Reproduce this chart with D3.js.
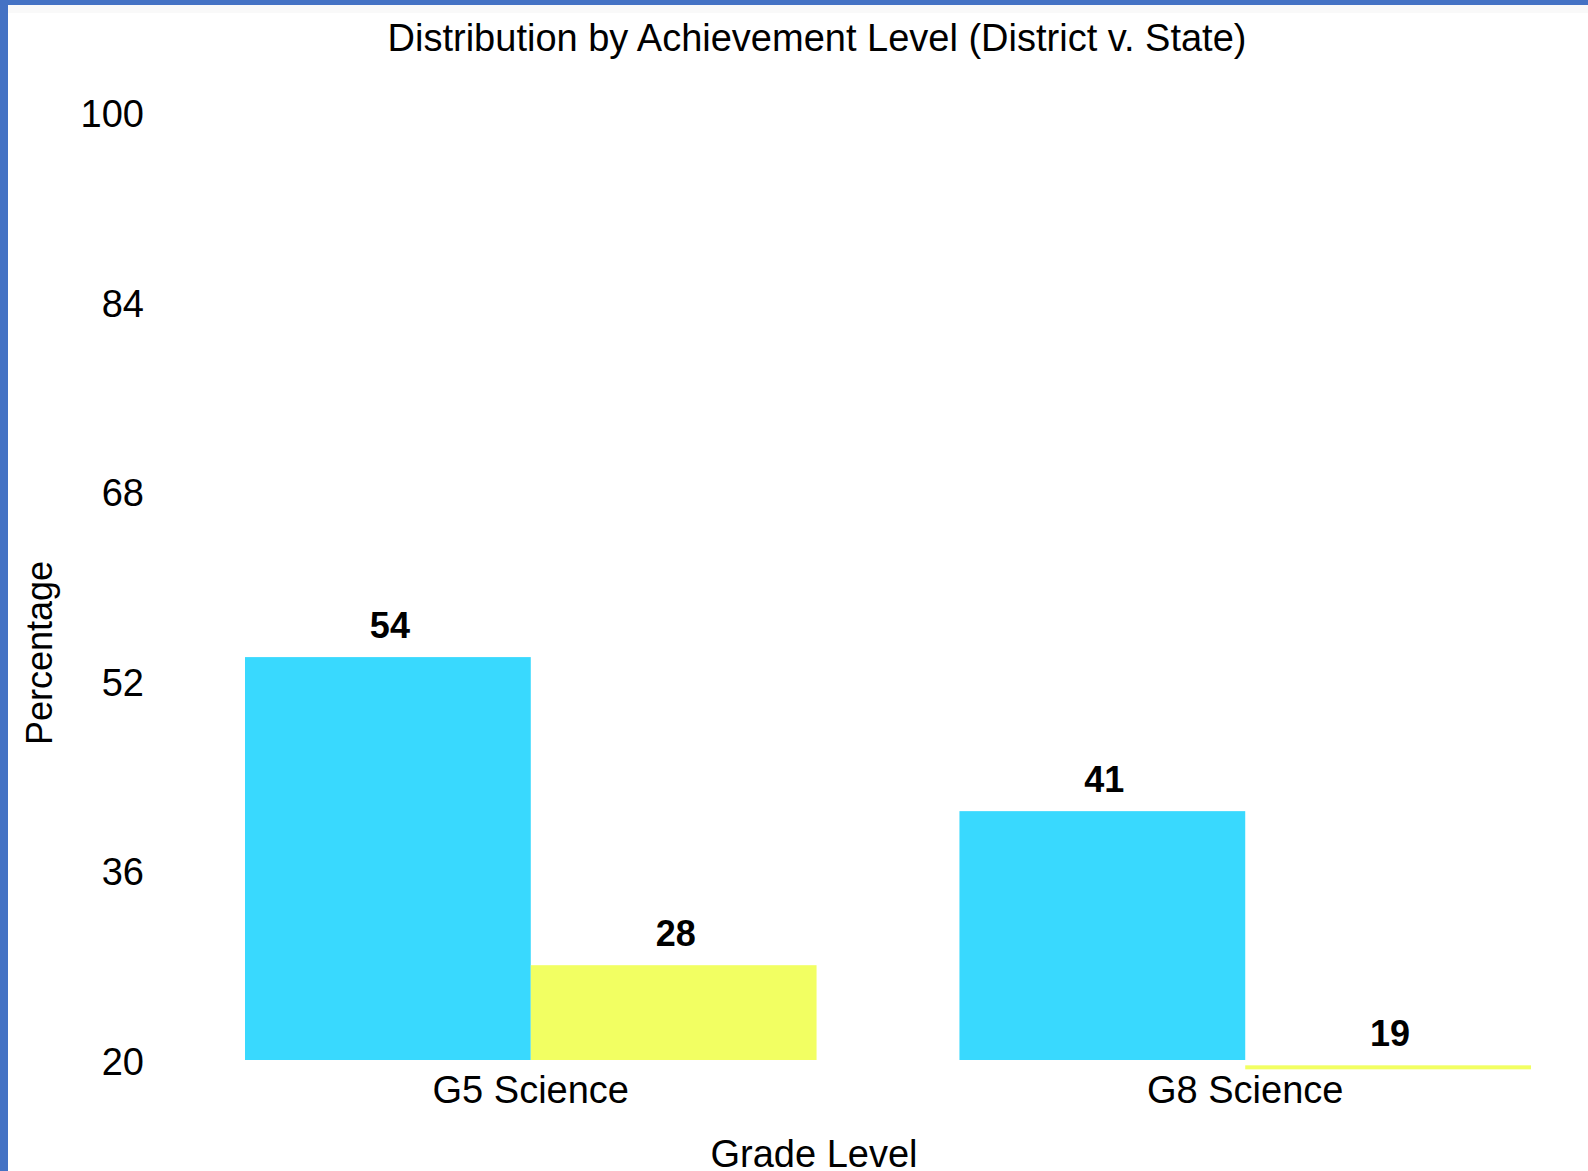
<!DOCTYPE html>
<html><head><meta charset="utf-8">
<script src="https://cdn.jsdelivr.net/npm/d3@7"></script>
<style>
html,body{margin:0;padding:0;background:#fff;}
svg{display:block;}
text{font-family:"Liberation Sans",Arial,Helvetica,sans-serif;fill:#000;}
</style></head>
<body>
<svg id="c" width="1588" height="1171"></svg>
<script>
const categories = ["G5 Science", "G8 Science"];
const seriesNames = ["District", "State"];
const districtValues = [54, 41];
const stateValues = [28, 19];
const yTicks = [20, 36, 52, 68, 84, 100];
const colors = ["#39d9fe", "#f2ff62"];

const W = 1588, H = 1171;
const svg = d3.select("#c");

// frame
svg.append("rect").attr("x",0).attr("y",0).attr("width",W).attr("height",H).attr("fill","#4472c4");
svg.append("rect").attr("x",8).attr("y",5).attr("width",W-8).attr("height",H-5).attr("fill","#ffffff");
svg.append("rect").attr("x",8).attr("y",5).attr("width",W-8).attr("height",8).attr("fill","#f9f9f9");

const y = d3.scaleLinear().domain([20, 100]).range([1060, 112]);
const x0 = d3.scaleBand().domain(categories).range([245, 1531]).paddingInner(0.2).paddingOuter(0);
const x1 = d3.scaleBand().domain(seriesNames).range([0, x0.bandwidth()]).padding(0);

const data = categories.map((c,i)=>({cat:c, vals:[
  {s:seriesNames[0], v:districtValues[i]},
  {s:seriesNames[1], v:stateValues[i]}]}));

function barTop(v){
  const ymin = y.domain()[0];
  if (v >= ymin) return y(v);
  return y(ymin) + (y(v) - y(ymin)) * 0.45;
}
function barH(v){
  const ymin = y.domain()[0];
  if (v >= ymin) return y(ymin) - y(v);
  return 4;
}

const g = svg.append("g").selectAll("g").data(data).join("g")
  .attr("transform", d=>`translate(${x0(d.cat)},0)`);
g.selectAll("rect").data(d=>d.vals).join("rect")
  .attr("x", d=>x1(d.s))
  .attr("y", d=>barTop(d.v))
  .attr("width", x1.bandwidth())
  .attr("height", d=>barH(d.v))
  .attr("fill", (d,i)=>colors[i]);
g.selectAll("text").data(d=>d.vals).join("text")
  .attr("x", d=>x1(d.s)+x1.bandwidth()/2+2)
  .attr("y", d=>barTop(d.v)-19)
  .attr("text-anchor","middle")
  .attr("font-size",36).attr("font-weight","bold")
  .text(d=>d.v);

// y axis (labels only)
const yAxis = d3.axisLeft(y).tickValues(yTicks).tickSize(0).tickPadding(0);
const ya = svg.append("g").attr("transform","translate(144,0)").call(yAxis);
ya.select(".domain").remove();
ya.selectAll("text").attr("font-size",38).attr("font-family","Liberation Sans, Arial, sans-serif")
  .attr("fill","#000").attr("dy","0.38em");

// x axis labels
const xAxis = d3.axisBottom(x0).tickSize(0).tickPadding(0);
const xa = svg.append("g").attr("transform","translate(0,1103)").call(xAxis);
xa.select(".domain").remove();
xa.selectAll("text").attr("font-size",38).attr("font-family","Liberation Sans, Arial, sans-serif")
  .attr("fill","#000").attr("dy",0);

// title & axis titles
svg.append("text").attr("x",817).attr("y",51).attr("text-anchor","middle")
  .attr("font-size",38).text("Distribution by Achievement Level (District v. State)");
svg.append("text").attr("x",814).attr("y",1167).attr("text-anchor","middle")
  .attr("font-size",38).text("Grade Level");
svg.append("text").attr("transform","translate(52,653) rotate(-90)").attr("text-anchor","middle")
  .attr("font-size",36).text("Percentage");
</script>
</body></html>
